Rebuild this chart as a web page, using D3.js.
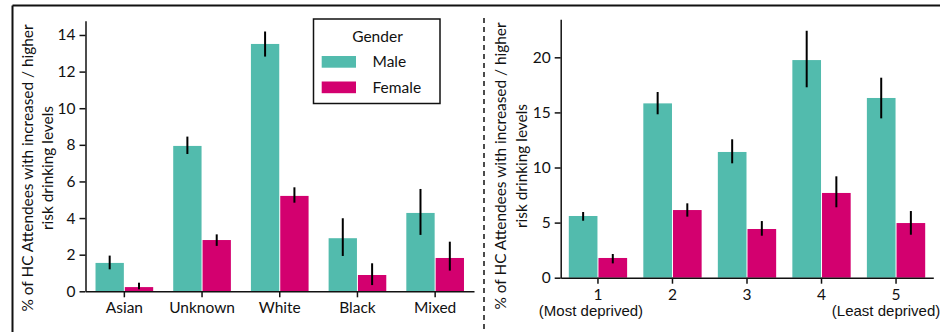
<!DOCTYPE html>
<html>
<head>
<meta charset="utf-8">
<script src="https://cdn.jsdelivr.net/npm/d3@7"></script>
<style>
  html, body { margin: 0; padding: 0; background: #fff; }
  svg { display: block; font-family: Lato, "Noto Sans", sans-serif; }
</style>
</head>
<body>
<svg id="chart" width="940" height="332"></svg>
<script>
// Ethnicity panel
const ethnicities = ["Asian", "Unknown", "White", "Black", "Mixed"];
const ethMale       = [1.55, 7.94, 13.51, 2.90, 4.28];
const ethMaleLo     = [1.20, 7.50, 12.82, 1.93, 3.08];
const ethMaleHi     = [1.95, 8.45, 14.19, 3.99, 5.59];
const ethFemale     = [0.23, 2.80, 5.21, 0.89, 1.82];
const ethFemaleLo   = [0.11, 2.48, 4.84, 0.34, 1.13];
const ethFemaleHi   = [0.47, 3.11, 5.68, 1.53, 2.71];
const ethTicks      = [0, 2, 4, 6, 8, 10, 12, 14];

// Deprivation quintile panel
const quintiles     = ["1", "2", "3", "4", "5"];
const quintileNotes = ["(Most deprived)", "", "", "", "(Least deprived)"];
const depMale       = [5.60, 15.82, 11.41, 19.75, 16.31];
const depMaleLo     = [5.17, 14.83, 10.38, 17.28, 14.46];
const depMaleHi     = [5.96, 16.85, 12.56, 22.41, 18.15];
const depFemale     = [1.79, 6.14, 4.42, 7.69, 4.96];
const depFemaleLo   = [1.30, 5.54, 3.81, 6.39, 3.90];
const depFemaleHi   = [2.15, 6.75, 5.14, 9.20, 6.05];
const depTicks      = [0, 5, 10, 15, 20];

const genders = ["Male", "Female"];
const colors = { Male: "#52bbad", Female: "#d3006f" };
const yTitle = ["% of HC Attendees with increased / higher", "risk drinking levels"];

const svg = d3.select("#chart");

// outer frame (top and left edges)
svg.append("line").attr("x1", 12.5).attr("x2", 940).attr("y1", 5.5).attr("y2", 5.5)
  .attr("stroke", "#111").attr("stroke-width", 2);
svg.append("line").attr("x1", 12.5).attr("x2", 12.5).attr("y1", 5.5).attr("y2", 332)
  .attr("stroke", "#111").attr("stroke-width", 2);

// dashed divider between panels
svg.append("line").attr("x1", 484).attr("x2", 484).attr("y1", 18).attr("y2", 332)
  .attr("stroke", "#111").attr("stroke-width", 1.5).attr("stroke-dasharray", "5,4");

function rows(cats, m, mlo, mhi, f, flo, fhi) {
  return cats.map((c, i) => ({
    cat: c,
    bars: [
      { g: "Male", v: m[i], lo: mlo[i], hi: mhi[i] },
      { g: "Female", v: f[i], lo: flo[i], hi: fhi[i] }
    ]
  }));
}

function panel(opt) {
  const x = d3.scaleBand().domain(opt.cats).range(opt.xr).paddingInner(0).paddingOuter(0);
  const y = d3.scaleLinear().domain(opt.yd).range(opt.yr);
  const groupW = x.step() * opt.groupFrac;
  const inner = d3.scaleBand().domain(genders).range([-groupW / 2, groupW / 2]);
  const g = svg.append("g");

  const grp = g.selectAll("g.grp").data(opt.data).join("g")
    .attr("transform", d => `translate(${x(d.cat) + x.bandwidth() / 2},0)`);

  grp.selectAll("rect").data(d => d.bars).join("rect")
    .attr("x", b => inner(b.g) + 0.5)
    .attr("width", inner.bandwidth() - 1)
    .attr("y", b => y(b.v))
    .attr("height", b => y(0) - y(b.v))
    .attr("fill", b => colors[b.g]);

  grp.selectAll("line.err").data(d => d.bars).join("line")
    .attr("class", "err")
    .attr("x1", b => inner(b.g) + inner.bandwidth() / 2)
    .attr("x2", b => inner(b.g) + inner.bandwidth() / 2)
    .attr("y1", b => y(b.lo))
    .attr("y2", b => y(b.hi))
    .attr("stroke", "#000").attr("stroke-width", 2);

  // y axis
  const ya = g.append("g").attr("transform", `translate(${opt.xr[0]},0)`)
    .call(d3.axisLeft(y).tickValues(opt.ticks).tickSize(6).tickPadding(4).tickSizeOuter(0));
  // x axis
  const xa = g.append("g").attr("transform", `translate(0,${opt.yr[0]})`)
    .call(d3.axisBottom(x).tickSize(6).tickPadding(5).tickSizeOuter(0));

  [ya, xa].forEach(a => {
    a.select(".domain").attr("stroke", "#111").attr("stroke-width", 1.5);
    a.selectAll(".tick line").attr("stroke", "#111").attr("stroke-width", 1.5);
    a.selectAll(".tick text").attr("fill", "#111").style("font-size", "15.5px")
      .style("font-family", "Lato, 'Noto Sans', sans-serif");
  });

  if (opt.notes) {
    xa.selectAll(".tick").each(function (d, i) {
      if (!opt.notes[i]) return;
      d3.select(this).append("text")
        .attr("fill", "#111").attr("text-anchor", "middle")
        .attr("x", opt.noteDx[i]).attr("y", 28).attr("dy", "0.71em")
        .style("font-size", "15px").text(opt.notes[i]);
    });
  }

  // y title, two lines
  const t = g.append("text")
    .attr("transform", `translate(${opt.titleX},${opt.titleY}) rotate(-90)`)
    .attr("text-anchor", "middle").attr("fill", "#111").style("font-size", "15.4px");
  yTitle.forEach((s, i) => t.append("tspan").attr("x", 0).attr("dy", i === 0 ? 0 : opt.titleGap).text(s));
}

panel({
  cats: ethnicities,
  data: rows(ethnicities, ethMale, ethMaleLo, ethMaleHi, ethFemale, ethFemaleLo, ethFemaleHi),
  xr: [85.5, 474], yr: [291.3, 20.7], yd: [0, 14.78], ticks: ethTicks,
  groupFrac: 0.755, titleX: 33, titleY: 168, titleGap: 20
});

panel({
  cats: quintiles,
  notes: quintileNotes, noteDx: [-7, 0, 0, 0, -10],
  data: rows(quintiles, depMale, depMaleLo, depMaleHi, depFemale, depFemaleLo, depFemaleHi),
  xr: [560.7, 933.3], yr: [277.7, 19.3], yd: [0, 23.45], ticks: depTicks,
  groupFrac: 0.796, titleX: 506, titleY: 166, titleGap: 21
});

// legend
const lg = svg.append("g").attr("transform", "translate(313.5,19)");
lg.append("rect").attr("width", 126.5).attr("height", 84.5)
  .attr("fill", "#fff").attr("stroke", "#111").attr("stroke-width", 1.5);
lg.append("text").attr("x", 64).attr("y", 18).attr("dy", "0.35em")
  .attr("text-anchor", "middle").attr("fill", "#111").style("font-size", "15.5px").text("Gender");
const li = lg.selectAll("g.item").data(genders).join("g")
  .attr("transform", (d, i) => `translate(0,${43 + i * 25.5})`);
li.append("rect").attr("x", 8.2).attr("y", -6).attr("width", 34.3).attr("height", 11.7)
  .attr("fill", d => colors[d]);
li.append("text").attr("x", 59).attr("y", 0).attr("dy", "0.35em")
  .attr("fill", "#111").style("font-size", "15.5px").text(d => d);
</script>
</body>
</html>
